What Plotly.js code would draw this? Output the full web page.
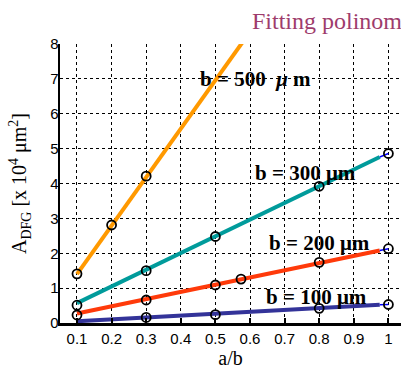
<!DOCTYPE html>
<html><head><meta charset="utf-8">
<script src="https://cdn.plot.ly/plotly-3.0.1.min.js"></script>
<style>html,body{margin:0;padding:0;background:#fff;overflow:hidden}#chart{width:401px;height:369px}</style>
</head><body><div id="chart"></div>
<script>
// Measured points (a/b, A_DFG in 1e4 um^2)
const x500 = [0.1, 0.2, 0.3];
const y500 = [1.41, 2.81, 4.21];
const x300 = [0.1, 0.3, 0.5, 0.8, 1.0];
const y300 = [0.51, 1.50, 2.48, 3.92, 4.86];
const x200 = [0.1, 0.3, 0.5, 0.574, 0.8, 1.0];
const y200 = [0.23, 0.66, 1.09, 1.26, 1.74, 2.13];
const x100 = [0.3, 0.5, 0.8, 1.0];
const y100 = [0.16, 0.24, 0.42, 0.53];
// Fitted lines (end points)
const fitX500 = [0.1, 0.6];
const fitY500 = [1.40, 8.35];
const fitX300 = [0.1, 0.975];
const fitY300 = [0.57, 4.76];
const fitX200 = [0.1, 0.975];
const fitY200 = [0.27, 2.08];
const fitX100 = [0.1, 0.975];
const fitY100 = [0.05, 0.52];
const xTicks = [0.1,0.2,0.3,0.4,0.5,0.6,0.7,0.8,0.9,1];
const xTickText = ['0.1','0.2','0.3','0.4','0.5','0.6','0.7','0.8','0.9','1'];
const yTicks = [0,1,2,3,4,5,6,7,8];
const labels = ['b = 500  <i>μ</i> m','b = 300 μm','b = 200 μm','b = 100 μm'];
const labelX = [0.617, 0.759, 0.802, 0.792];
const labelY = [6.99, 4.30, 2.29, 0.745];
const chartTitle = 'Fitting polinom';

const fits = [
  [fitX500, fitY500, '#ff9900'],
  [fitX300, fitY300, '#009b9b'],
  [fitX200, fitY200, '#ff3a0a'],
  [fitX100, fitY100, '#333399']
];
const pts = [[x500,y500],[x300,y300],[x200,y200],[x100,y100]];
const traces = [];
fits.forEach(f => traces.push({x:f[0], y:f[1], mode:'lines', line:{color:f[2], width:4}, hoverinfo:'skip', showlegend:false}));
// thin blue connectors from fit end to last point at a/b = 1
[[fitX300,fitY300,x300,y300],[fitX200,fitY200,x200,y200],[fitX100,fitY100,x100,y100]].forEach(c => {
  traces.push({x:[c[0][c[0].length-1], c[2][c[2].length-1]], y:[c[1][c[1].length-1], c[3][c[3].length-1]],
    mode:'lines', line:{color:'#0000ff', width:1.5}, showlegend:false, hoverinfo:'skip'});
});
pts.forEach(p => traces.push({x:p[0], y:p[1], mode:'markers',
  marker:{symbol:'circle-open', size:9, color:'#000', line:{width:1.8, color:'#000'}}, showlegend:false}));

const annotations = labels.map((t,i) => ({x:labelX[i], y:labelY[i], xref:'x', yref:'y', text:t, showarrow:false,
  xanchor:'center', yanchor:'middle', font:{family:'Liberation Serif', size:21, color:'#000', weight:'bold'}}));
annotations.push({xref:'paper', yref:'paper', x:(250-60)/341, y:1+(44-21)/279, xanchor:'left', yanchor:'middle',
  text:chartTitle, showarrow:false, font:{family:'Liberation Serif', size:24, color:'#9e3c6c'}});

const layout = {
  width:401, height:369,
  margin:{l:60, r:0, t:44, b:46, pad:0},
  paper_bgcolor:'#fff', plot_bgcolor:'#fff',
  showlegend:false,
  xaxis:{range:[0.0509, 1.0364], tickvals:xTicks, ticktext:xTickText, ticks:'inside', ticklen:5, tickwidth:2, tickcolor:'#000',
    showgrid:true, gridcolor:'#000', griddash:'dot', gridwidth:1, zeroline:false,
    showline:true, linecolor:'#000', linewidth:2.5,
    tickfont:{family:'Liberation Sans', size:15, color:'#000'},
    title:{text:'a/b', font:{family:'Liberation Serif', size:20, color:'#000'}, standoff:6}},
  yaxis:{range:[0,8], tickvals:yTicks, ticks:'', ticklabelstandoff:-4, showgrid:true, gridcolor:'#000', griddash:'dot', gridwidth:1, zeroline:false,
    showline:true, linecolor:'#000', linewidth:2.5,
    tickfont:{family:'Liberation Sans', size:15, color:'#000'},
    title:{text:'A<sub>DFG</sub> [x 10<sup>4</sup> μm<sup>2</sup>]', font:{family:'Liberation Serif', size:20, color:'#000'}, standoff:18}},
  annotations:annotations
};
Plotly.newPlot('chart', traces, layout, {staticPlot:true, displayModeBar:false});
</script></body></html>
